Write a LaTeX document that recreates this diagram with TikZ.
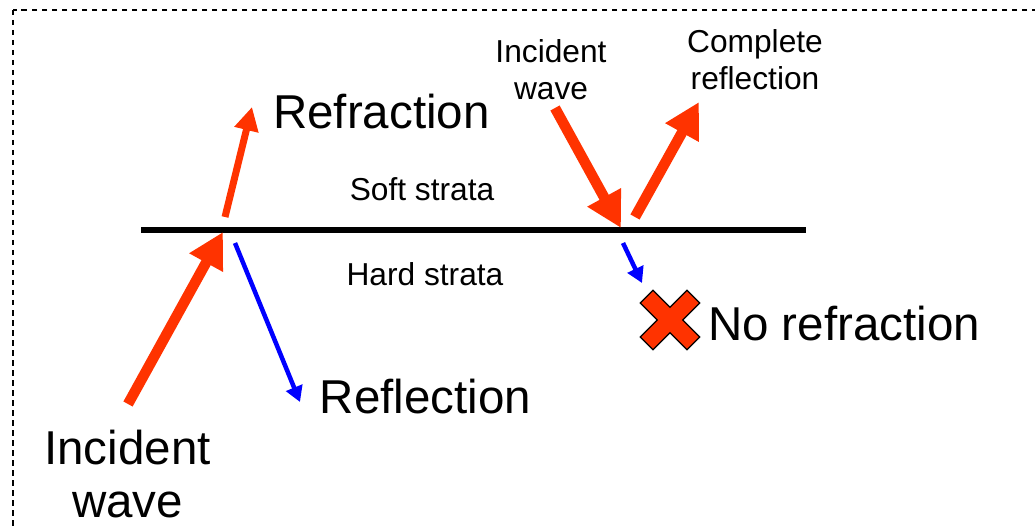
\documentclass[tikz,border=0pt]{standalone}
\usepackage{fontspec}
\setmainfont{Liberation Sans}
\usetikzlibrary{arrows.meta}
\definecolor{wave}{HTML}{FF3300}
\definecolor{refl}{HTML}{0000FF}
\tikzset{
  big/.style={font=\fontsize{47.5}{53}\selectfont, inner sep=0pt, anchor=base, align=center},
  small/.style={font=\fontsize{31.7}{37}\selectfont, inner sep=0pt, anchor=base, align=center},
  thickwave/.style={draw=wave, line width=10.5pt, -{Triangle[width=36pt,length=35pt]}, color=wave},
  thinwave/.style={draw=wave, line width=7pt, -{Triangle[width=23.5pt,length=23.5pt]}, color=wave},
  bluewave/.style={draw=refl, line width=4.5pt, -{Triangle[width=17pt,length=15.5pt]}, color=refl},
  frame/.style={draw=black, line width=2pt, dash pattern=on 5.5pt off 4.5pt},
}
\begin{document}
\begin{tikzpicture}[x=1pt,y=-1pt]
\useasboundingbox (0,0) rectangle (1035,526);
\clip (0,0) rectangle (1035,526);
% dashed frame (runs past the page on the right and bottom)
\draw[frame] (13,10) rectangle (1060,560);

% boundary between the strata
\coordinate (bl) at (141,230);
\coordinate (br) at (806,230);
\draw[line width=6pt] (bl) -- (br);

% left case: refraction and reflection
\coordinate (inA) at (128,404);
\coordinate (hitA) at (223,232);
\coordinate (rfA0) at (225,217);
\coordinate (rfA1) at (252,107);
\coordinate (rlA0) at (235,243);
\coordinate (rlA1) at (300,402);
\draw[thickwave] (inA) -- (hitA);
\draw[thinwave] (rfA0) -- (rfA1);
\draw[bluewave] (rlA0) -- (rlA1);

% right case: complete reflection
\coordinate (inB) at (555,108);
\coordinate (hitB) at (621,228);
\coordinate (crB0) at (635,217);
\coordinate (crB1) at (699,102);
\coordinate (rlB0) at (623,243);
\coordinate (rlB1) at (642,283);
\draw[thickwave] (inB) -- (hitB);
\draw[thickwave] (crB0) -- (crB1);
\draw[bluewave] (rlB0) -- (rlB1);

% cross mark
\begin{scope}[shift={(670,320)}, rotate=45]
  \draw[fill=wave, draw=black, line width=1.2pt, line join=miter]
    (9,9) -- (33,9) -- (33,-9) -- (9,-9) -- (9,-33) -- (-9,-33) -- (-9,-9)
    -- (-33,-9) -- (-33,9) -- (-9,9) -- (-9,33) -- (9,33) -- cycle;
\end{scope}

% labels (base anchor of a two-line label is its last line)
\node[big] (refraction) at (381.5,129) {Refraction};
\node[big] (reflection) at (425.5,413) {Reflection};
\node[big] (norefr) at (844,340) {No refraction};
\node[big] (incA) at (127.5,517) {Incident\\wave};
\node[small] (soft) at (422,201) {Soft strata};
\node[small] (hard) at (425,286) {Hard strata};
\node[small] (incB) at (551,100) {Incident\\wave};
\node[small] (complete) at (755,90) {Complete\\reflection};
\end{tikzpicture}
\end{document}
